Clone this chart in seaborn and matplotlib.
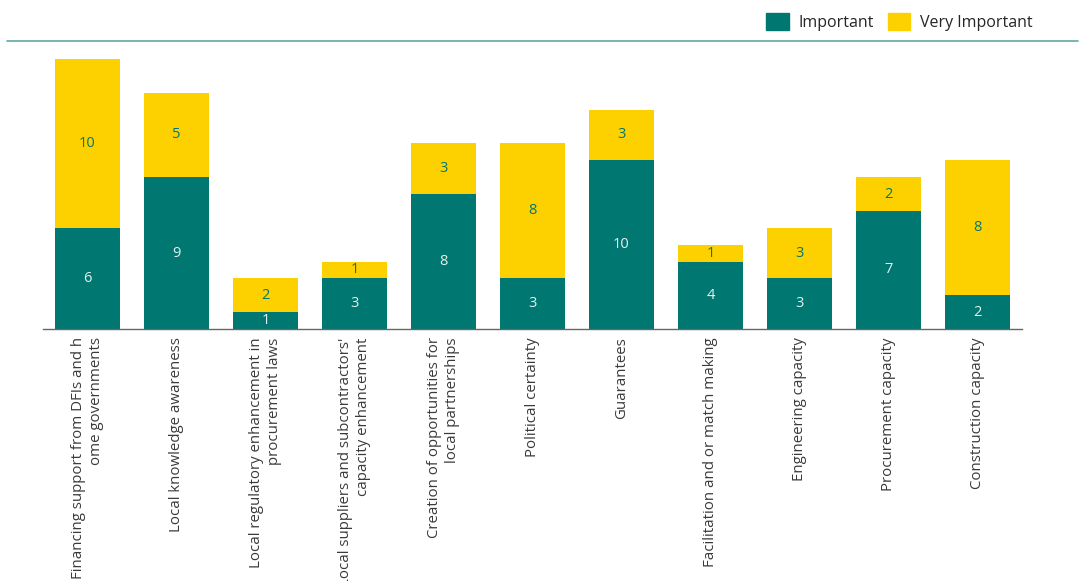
import matplotlib
matplotlib.use("Agg")
import matplotlib.pyplot as plt
import seaborn as sns
import pandas as pd
from matplotlib.lines import Line2D
from matplotlib.patches import Rectangle

categories = [
    "Financing support from DFIs and h\nome governments",
    "Local knowledge awareness",
    "Local regulatory enhancement in\nprocurement laws",
    "Local suppliers and subcontractors'\ncapacity enhancement",
    "Creation of opportunities for\nlocal partnerships",
    "Political certainty",
    "Guarantees",
    "Facilitation and or match making",
    "Engineering capacity",
    "Procurement capacity",
    "Construction capacity",
]
important = [6, 9, 1, 3, 8, 3, 10, 4, 3, 7, 2]
very_important = [10, 5, 2, 1, 3, 8, 3, 1, 3, 2, 8]
series_names = ["Important", "Very Important"]

TEAL = "#007770"
YELLOW = "#FDD100"

sns.set_theme(style="white")
plt.rcParams["font.family"] = ["Open Sans", "DejaVu Sans"]

df = pd.DataFrame({"cat": categories, "imp": important, "vimp": very_important})

fig = plt.figure(figsize=(10.83, 5.81), dpi=100)
ax = fig.add_axes([43 / 1083, (581 - 329) / 581, (1022 - 43) / 1083, (329 - 41) / 581])

sns.barplot(data=df, x="cat", y="imp", color=TEAL, width=0.73, ax=ax, saturation=1,
            linewidth=0, edgecolor="none")
sns.barplot(data=df, x="cat", y="vimp", bottom=df["imp"], color=YELLOW, width=0.73,
            ax=ax, saturation=1, linewidth=0, edgecolor="none")

for i, (a, b) in enumerate(zip(important, very_important)):
    ax.text(i, a / 2, str(a), ha="center", va="center", color="#E6F2F1", fontsize=10.5)
    ax.text(i, a + b / 2, str(b), ha="center", va="center", color=TEAL, fontsize=10.5)

ax.set_xlim(-0.5, len(categories) - 0.5)
ax.set_ylim(0, 288 / 16.875)
ax.set_xlabel("")
ax.set_ylabel("")
ax.set_yticks([])
for s in ["top", "right", "left"]:
    ax.spines[s].set_visible(False)
ax.spines["bottom"].set_color("#666666")
ax.spines["bottom"].set_linewidth(1)
ax.tick_params(axis="x", length=0, pad=6)
ax.set_xticks(range(len(categories)))
ax.set_xticklabels(categories, rotation=90, fontsize=10.8, color="#3a3a3a",
                   multialignment="right", ha="center", va="top")

# separator line
fig.add_artist(Line2D([7 / 1083, 1078 / 1083], [1 - 41 / 581, 1 - 41 / 581],
                      color="#5FA9A3", linewidth=1.2))

# legend
handles = [Rectangle((0, 0), 1, 1, color=TEAL), Rectangle((0, 0), 1, 1, color=YELLOW)]
fig.legend(handles, series_names, loc="upper right", bbox_to_anchor=(1047 / 1083, 1 + 1 / 581),
           ncol=2, frameon=False, fontsize=11.5, handlelength=1.4, handleheight=1.2,
           columnspacing=0.9, handletextpad=0.6)

fig.savefig("out.png", dpi=100)
